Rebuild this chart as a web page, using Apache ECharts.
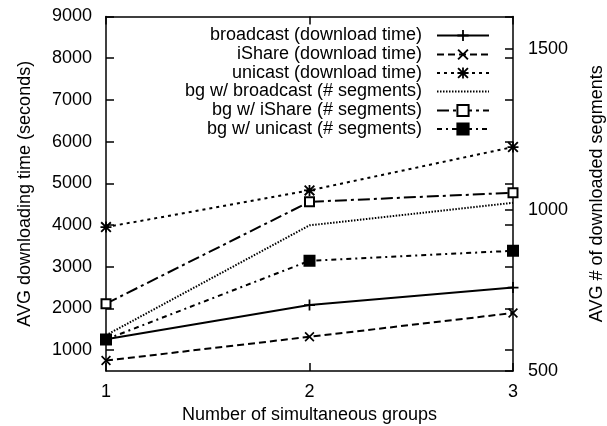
<!DOCTYPE html>
<html>
<head>
<meta charset="utf-8">
<script src="https://cdn.jsdelivr.net/npm/echarts@6/dist/echarts.min.js"></script>
<style>
  html, body { margin: 0; padding: 0; background: #fff; }
  #chart { width: 607px; height: 426px; }
</style>
</head>
<body>
<div id="chart"></div>
<script>
// x values (number of simultaneous groups)
const groups = [1, 2, 3];

// left axis: AVG downloading time (seconds)
const broadcastTime = [1260, 2080, 2500];
const iShareTime = [750, 1320, 1890];
const unicastTime = [3950, 4830, 5870];

// right axis: AVG # of downloaded segments
const bgBroadcastSeg = [611, 952, 1022];
const bgIShareSeg = [709, 1025, 1053];
const bgUnicastSeg = [598, 842, 873];

const leftTicks = [1000, 2000, 3000, 4000, 5000, 6000, 7000, 8000, 9000];
const rightTicks = [500, 1000, 1500];
const xTicks = [1, 2, 3];

const FONT = "'Liberation Sans', Arial, sans-serif";
const BLACK = '#000';

// gnuplot style point shapes
const PLUS = 'path://M0,4.2H10V5.8H0Z M4.2,0H5.8V10H4.2Z';
const CROSS = 'path://M0,1.2L1.2,0L10,8.8L8.8,10Z M8.8,0L10,1.2L1.2,10L0,8.8Z';
const STAR = 'path://M0,1.2L1.2,0L10,8.8L8.8,10Z M8.8,0L10,1.2L1.2,10L0,8.8Z M0,4.2H10V5.8H0Z M4.2,0H5.8V10H4.2Z';

function pairs(values) {
  return groups.map((g, i) => [g, values[i]]);
}

const seriesDefs = [
  { name: 'broadcast (download time)', data: broadcastTime, axis: 0, symbol: PLUS, size: 11, dash: 'solid', fill: BLACK },
  { name: 'iShare (download time)', data: iShareTime, axis: 0, symbol: CROSS, size: 10, dash: [7, 4], fill: BLACK },
  { name: 'unicast (download time)', data: unicastTime, axis: 0, symbol: STAR, size: 11, dash: [3, 4], fill: BLACK },
  { name: 'bg w/ broadcast (# segments)', data: bgBroadcastSeg, axis: 1, symbol: 'none', size: 0, dash: [1.5, 1.5], fill: BLACK },
  { name: 'bg w/ iShare (# segments)', data: bgIShareSeg, axis: 1, symbol: 'rect', size: 9, dash: [12, 4, 3, 4], fill: '#fff' },
  { name: 'bg w/ unicast (# segments)', data: bgUnicastSeg, axis: 1, symbol: 'rect', size: 10, dash: [5, 4, 2, 4], fill: BLACK }
];

const legendCenters = [33.5, 52.5, 71, 89.5, 108.5, 127];

const chart = echarts.init(document.getElementById('chart'));

const tickInside = (values) => ({
  show: true,
  inside: true,
  length: 8,
  customValues: values,
  lineStyle: { color: BLACK, width: 1.5 }
});

const plain = (v) => String(v);

const option = {
  backgroundColor: '#fff',
  animation: false,
  textStyle: { fontFamily: FONT, color: BLACK },
  grid: { left: 106, right: 94, top: 16.5, bottom: 55, outerBoundsMode: 'none', containLabel: false },
  legend: seriesDefs.map((s, i) => ({
    // no point marker for the dotted broadcast segments line
    data: [s.symbol === 'none' ? { name: s.name, itemStyle: { opacity: 0 } } : s.name],
    orient: 'vertical',
    align: 'right',
    right: 117,
    top: legendCenters[i] - 7,
    padding: 0,
    itemWidth: 52,
    itemHeight: 14,
    selectedMode: false,
    textStyle: { fontFamily: FONT, fontSize: 18, color: BLACK, padding: [0, 10, 0, 0] }
  })),
  xAxis: [
    {
      type: 'value',
      position: 'bottom',
      min: 1,
      max: 3,
      interval: 1,
      name: 'Number of simultaneous groups',
      nameLocation: 'middle',
      nameGap: 35,
      nameTextStyle: { fontFamily: FONT, fontSize: 18, color: BLACK },
      axisLine: { lineStyle: { color: BLACK, width: 1.5 } },
      axisTick: tickInside(xTicks),
      axisLabel: { margin: 12, fontFamily: FONT, fontSize: 18, color: BLACK, customValues: xTicks, formatter: plain },
      splitLine: { show: false }
    },
    {
      type: 'value',
      position: 'top',
      min: 1,
      max: 3,
      interval: 1,
      axisLine: { lineStyle: { color: BLACK, width: 1.5 } },
      axisTick: tickInside(xTicks),
      axisLabel: { show: false },
      splitLine: { show: false }
    }
  ],
  yAxis: [
    {
      type: 'value',
      position: 'left',
      min: 500,
      max: 9000,
      name: 'AVG downloading time (seconds)',
      nameLocation: 'middle',
      nameRotate: 90,
      nameGap: 72,
      nameTextStyle: { fontFamily: FONT, fontSize: 18, color: BLACK },
      axisLine: { show: true, lineStyle: { color: BLACK, width: 1.5 } },
      axisTick: tickInside(leftTicks),
      axisLabel: { margin: 14, fontFamily: FONT, fontSize: 18, color: BLACK, customValues: leftTicks, formatter: plain },
      splitLine: { show: false }
    },
    {
      type: 'value',
      position: 'right',
      min: 500,
      max: 1600,
      name: 'AVG # of downloaded segments',
      nameLocation: 'middle',
      nameRotate: 90,
      nameGap: 75,
      nameTextStyle: { fontFamily: FONT, fontSize: 18, color: BLACK },
      axisLine: { show: true, lineStyle: { color: BLACK, width: 1.5 } },
      axisTick: tickInside(rightTicks),
      axisLabel: { margin: 15, fontFamily: FONT, fontSize: 18, color: BLACK, customValues: rightTicks, formatter: plain },
      splitLine: { show: false }
    },
    {
      // mirror of the left ticks on the right border
      type: 'value',
      position: 'right',
      min: 500,
      max: 9000,
      axisLine: { show: false },
      axisTick: tickInside(leftTicks),
      axisLabel: { show: false },
      splitLine: { show: false }
    }
  ],
  series: seriesDefs.map((s) => ({
    name: s.name,
    type: 'line',
    xAxisIndex: 0,
    yAxisIndex: s.axis,
    data: pairs(s.data),
    symbol: s.symbol,
    symbolSize: s.size,
    symbolKeepAspect: true,
    showSymbol: s.symbol !== 'none',
    lineStyle: { color: BLACK, width: 2, type: s.dash },
    itemStyle: {
      color: s.fill,
      borderColor: BLACK,
      borderWidth: s.symbol === 'rect' ? 2 : 0
    },
    emphasis: { disabled: true },
    z: 3
  }))
};

chart.setOption(option);
</script>
</body>
</html>
